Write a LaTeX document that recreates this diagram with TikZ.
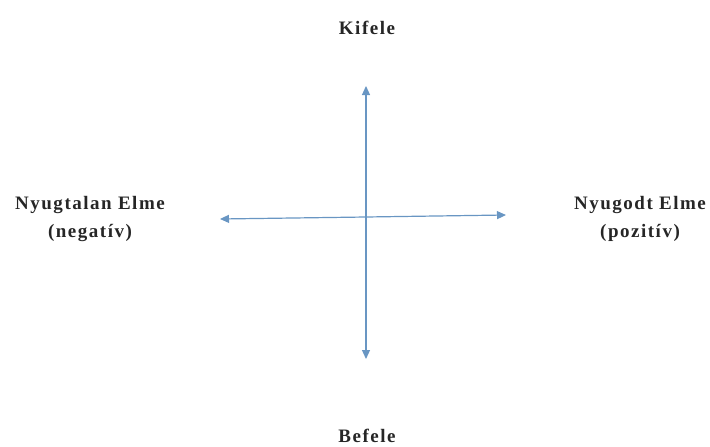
\documentclass[tikz,border=0pt]{standalone}
\usepackage{fontspec}
\setmainfont{Liberation Serif}[LetterSpace=8]
\usetikzlibrary{arrows.meta}
\definecolor{axisblue}{RGB}{105,150,195}
\begin{document}
\begin{tikzpicture}[x=1pt,y=-1pt,
  lbl/.style={font=\bfseries\fontsize{19}{28}\selectfont, align=center, inner sep=0pt, text=black!85},
  axis/.style={draw=axisblue, line width=1.2pt, -{Triangle[length=9pt,width=8pt]}}]
\useasboundingbox (0,0) rectangle (710,447);
\coordinate (c) at (366,217);
\coordinate (up) at (366,86);
\coordinate (down) at (366,359);
\coordinate (left) at (220,219);
\coordinate (right) at (506,215);
\draw[axis] (c) -- (up);
\draw[axis] (c) -- (down);
\draw[axis] (c) -- (left);
\draw[axis] (c) -- (right);
\node[lbl] (kifele) at (367,28) {Kifele};
\node[lbl] (befele) at (367,436) {Befele};
\node[lbl] (neg) at (90,219) {Nyugtalan Elme\\(negatív)};
\node[lbl] (pos) at (640,219) {Nyugodt Elme\\(pozitív)};
\end{tikzpicture}
\end{document}
